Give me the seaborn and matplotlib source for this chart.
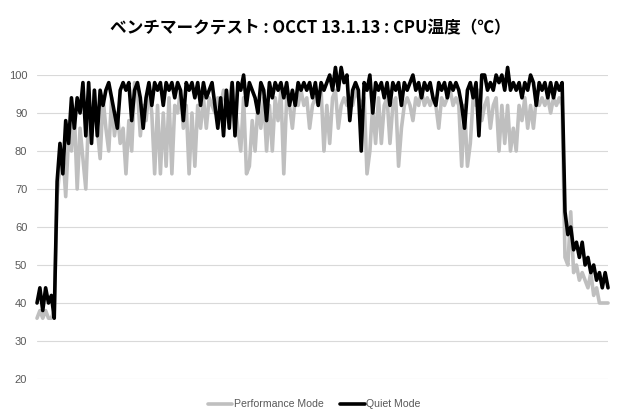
import numpy as np
import pandas as pd
import seaborn as sns
import matplotlib.pyplot as plt

# CPU temperature samples (deg C), one value per ~3 px
performance_mode = [
    36, 38, 36, 38, 36, 36, 38, 68, 76, 80, 68, 84, 80, 90, 70, 86, 78, 70, 90, 84,
    96, 86, 78, 94, 86, 80, 94, 84, 90, 82, 86, 74, 88, 80, 98, 96, 84, 92, 88, 96,
    90, 74, 92, 74, 90, 76, 94, 74, 92, 90, 96, 86, 92, 74, 90, 76, 92, 86, 94, 86,
    94, 92, 90, 94, 92, 96, 92, 94, 98, 92, 86, 80, 94, 74, 76, 88, 80, 92, 86, 94,
    80, 92, 80, 94, 88, 96, 74, 94, 92, 86, 94, 92, 96, 92, 94, 86, 92, 94, 92, 96,
    80, 92, 82, 94, 96, 86, 92, 94, 92, 94, 92, 96, 94, 92, 94, 74, 80, 92, 82, 94,
    82, 92, 94, 82, 92, 94, 76, 86, 92, 94, 92, 88, 94, 92, 96, 92, 94, 92, 94, 92,
    86, 94, 92, 94, 96, 92, 94, 92, 76, 92, 76, 82, 94, 92, 96, 88, 92, 94, 86, 92,
    94, 80, 92, 82, 92, 80, 86, 80, 92, 88, 94, 86, 92, 86, 94, 92, 94, 92, 94, 90,
    94, 92, 94, 92, 52, 50, 64, 48, 50, 46, 48, 46, 44, 48, 42, 44, 40, 40, 40, 40,
]
quiet_mode = [
    40, 44, 38, 44, 40, 42, 36, 72, 82, 74, 88, 82, 94, 86, 94, 90, 98, 84, 98, 82,
    96, 84, 96, 92, 96, 98, 94, 90, 86, 96, 98, 96, 98, 88, 96, 98, 94, 86, 94, 98,
    92, 98, 96, 98, 92, 98, 96, 98, 94, 98, 96, 88, 98, 96, 98, 94, 98, 92, 98, 94,
    96, 98, 92, 86, 94, 84, 96, 86, 98, 84, 98, 96, 100, 92, 98, 96, 94, 90, 98, 96,
    88, 98, 94, 98, 96, 98, 94, 98, 92, 96, 92, 98, 96, 98, 96, 98, 94, 98, 92, 98,
    96, 98, 100, 96, 102, 96, 102, 98, 100, 88, 96, 98, 96, 80, 98, 96, 100, 90, 98, 96,
    98, 94, 98, 92, 98, 96, 98, 92, 98, 96, 98, 100, 96, 98, 94, 98, 96, 98, 94, 92,
    98, 96, 98, 94, 98, 96, 98, 96, 92, 86, 96, 98, 94, 98, 84, 100, 100, 96, 98, 96,
    100, 98, 100, 96, 102, 96, 98, 96, 98, 94, 98, 96, 100, 98, 92, 98, 96, 98, 94, 98,
    94, 98, 96, 98, 64, 58, 60, 54, 56, 52, 56, 50, 52, 48, 50, 46, 48, 44, 48, 44,
]
series_names = ["Performance Mode", "Quiet Mode"]
y_ticks = [20, 30, 40, 50, 60, 70, 80, 90, 100]

sample = np.arange(len(quiet_mode))
df = pd.concat([
    pd.DataFrame({"sample": sample, "temp": performance_mode, "mode": series_names[0]}),
    pd.DataFrame({"sample": sample, "temp": quiet_mode, "mode": series_names[1]}),
])

sns.set_style("white")
plt.rcParams['font.family'] = ['Noto Sans CJK JP', 'DejaVu Sans']

fig = plt.figure(figsize=(6.2, 4.2), dpi=100)
ax = fig.add_axes([0.0597, 0.0976, 0.921, 0.7238])

sns.lineplot(data=df, x="sample", y="temp", hue="mode",
             palette={"Performance Mode": "#BFBFBF", "Quiet Mode": "#000000"},
             linewidth=2.6, ax=ax, legend=False)
for line in ax.lines:
    line.set_clip_on(False)

ax.set_xlim(0, len(quiet_mode) - 1)
ax.set_ylim(20, 100)
ax.set_yticks(y_ticks)
ax.set_xticks([])
ax.set_xlabel("")
ax.set_ylabel("")
ax.grid(axis="y", color="#D9D9D9", linewidth=0.8)
ax.set_axisbelow(True)
for s in ax.spines.values():
    s.set_visible(False)
ax.tick_params(axis="y", length=0, pad=7, labelsize=8, labelcolor="#595959")
for lab in ax.get_yticklabels():
    lab.set_fontfamily(["Liberation Sans", "DejaVu Sans"])

fig.suptitle("ベンチマークテスト : OCCT 13.1.13 : CPU温度（℃）", x=0.5, y=0.955,
             fontsize=12, fontweight="bold", color="#000000")

handles = [plt.Line2D([], [], color="#BFBFBF", lw=2.6),
           plt.Line2D([], [], color="#000000", lw=2.6)]
fig.legend(handles, series_names, loc="center", bbox_to_anchor=(0.507, 0.037),
           ncol=2, frameon=False, handlelength=2.3, handletextpad=0.15,
           columnspacing=1.6, prop={"family": ["Liberation Sans", "DejaVu Sans"], "size": 7.6},
           labelcolor="#595959")

fig.savefig("out.png", dpi=100)
